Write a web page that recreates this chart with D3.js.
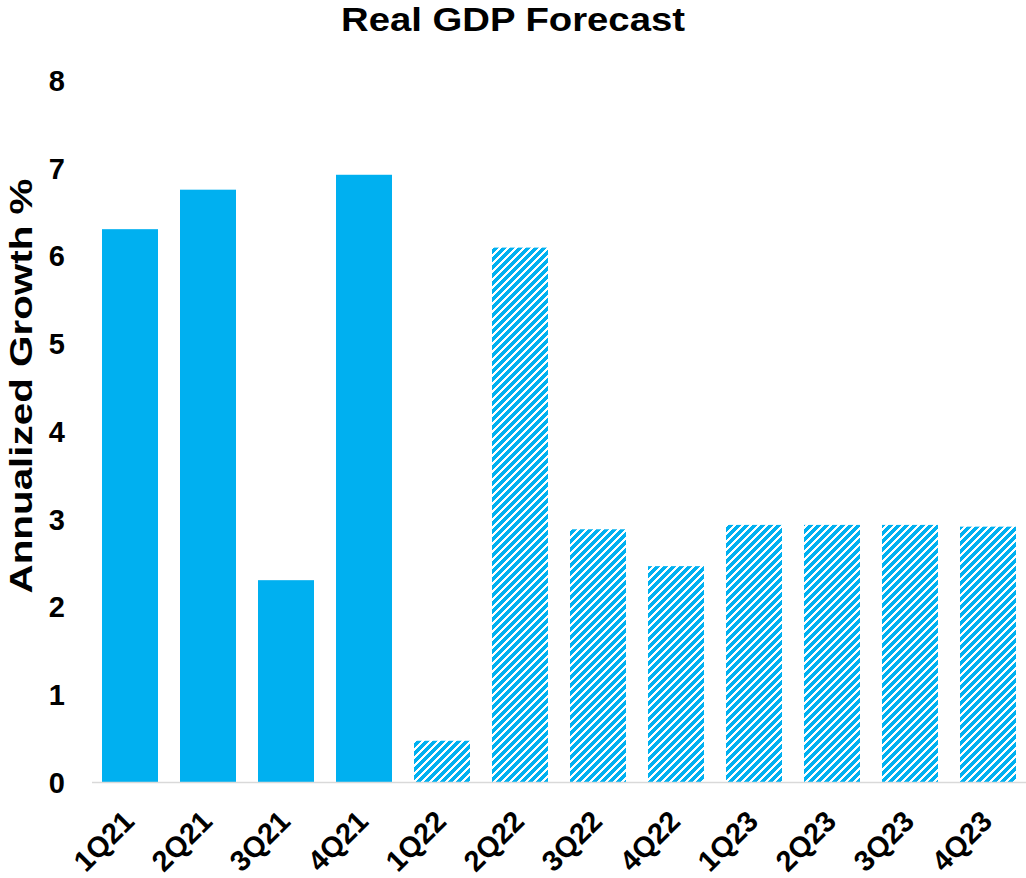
<!DOCTYPE html>
<html><head><meta charset="utf-8">
<script src="https://cdn.jsdelivr.net/npm/d3@7"></script>
<style>body{margin:0;background:#fff;} svg{display:block;font-family:Arial,"Liberation Sans",sans-serif;}</style>
</head><body>
<script>
const categories = ["1Q21","2Q21","3Q21","4Q21","1Q22","2Q22","3Q22","4Q22","1Q23","2Q23","3Q23","4Q23"];
const values = [6.3,6.75,2.3,6.92,0.47,6.09,2.88,2.46,2.93,2.93,2.93,2.91];
const forecast = [false,false,false,false,true,true,true,true,true,true,true,true];
const yTicks = [0,1,2,3,4,5,6,7,8];

const W=1026,H=878;
const FONT="Arial,'Liberation Sans',sans-serif";
const svg=d3.select("body").append("svg").attr("width",W).attr("height",H);
const defs=svg.append("defs");
const pat=defs.append("pattern").attr("id","hatch").attr("patternUnits","userSpaceOnUse")
  .attr("width",8).attr("height",8);
pat.append("rect").attr("width",8).attr("height",8).attr("fill","#fff");
pat.append("path").attr("d","M-2,2 L2,-2 M0,8 L8,0 M6,10 L10,6")
  .attr("stroke","#00B0F0").attr("stroke-width",3.6).attr("shape-rendering","crispEdges");

const x=d3.scaleBand().domain(categories).range([91,1027]).paddingInner(22/78).paddingOuter(11/78);
const y=d3.scaleLinear().domain([0,8]).range([782,80]);

svg.append("text").attr("x",513).attr("y",31).attr("text-anchor","middle")
  .attr("font-size",34).attr("font-weight","bold")
  .attr("textLength",344).attr("lengthAdjust","spacingAndGlyphs").text("Real GDP Forecast");

svg.append("g").selectAll("rect").data(categories).join("rect")
  .attr("x",d=>x(d)).attr("width",x.bandwidth())
  .attr("y",(d,i)=>y(values[i])).attr("height",(d,i)=>y(0)-y(values[i]))
  .attr("fill",(d,i)=>forecast[i]?"url(#hatch)":"#00B0F0");

svg.append("line").attr("x1",92).attr("x2",1026).attr("y1",y(0)+0.5).attr("y2",y(0)+0.5)
  .attr("stroke","#d9d9d9").attr("stroke-width",1.5);

const yAxis=d3.axisLeft(y).tickValues(yTicks).tickSize(0).tickPadding(0);
const ga=svg.append("g").attr("transform","translate(65,0)").call(yAxis);
ga.select(".domain").remove();
ga.selectAll("text").attr("font-size",29).attr("font-weight","bold").attr("fill","#000")
  .attr("font-family",FONT).attr("dy","0.36em");

svg.append("text").attr("transform","translate(32,386) rotate(-90)").attr("text-anchor","middle")
  .attr("font-size",32).attr("font-weight","bold")
  .attr("textLength",415).attr("lengthAdjust","spacingAndGlyphs").text("Annualized Growth %");

const xAxis=d3.axisBottom(x).tickSize(0).tickPadding(0);
const gx=svg.append("g").attr("transform","translate(0,782)").call(xAxis);
gx.select(".domain").remove();
gx.selectAll("text").attr("font-size",29).attr("font-weight","bold").attr("fill","#000")
  .attr("font-family",FONT)
  .attr("text-anchor","end").attr("dy",0).attr("y",0)
  .attr("transform","translate(6,41) rotate(-45)");
</script>
</body></html>
